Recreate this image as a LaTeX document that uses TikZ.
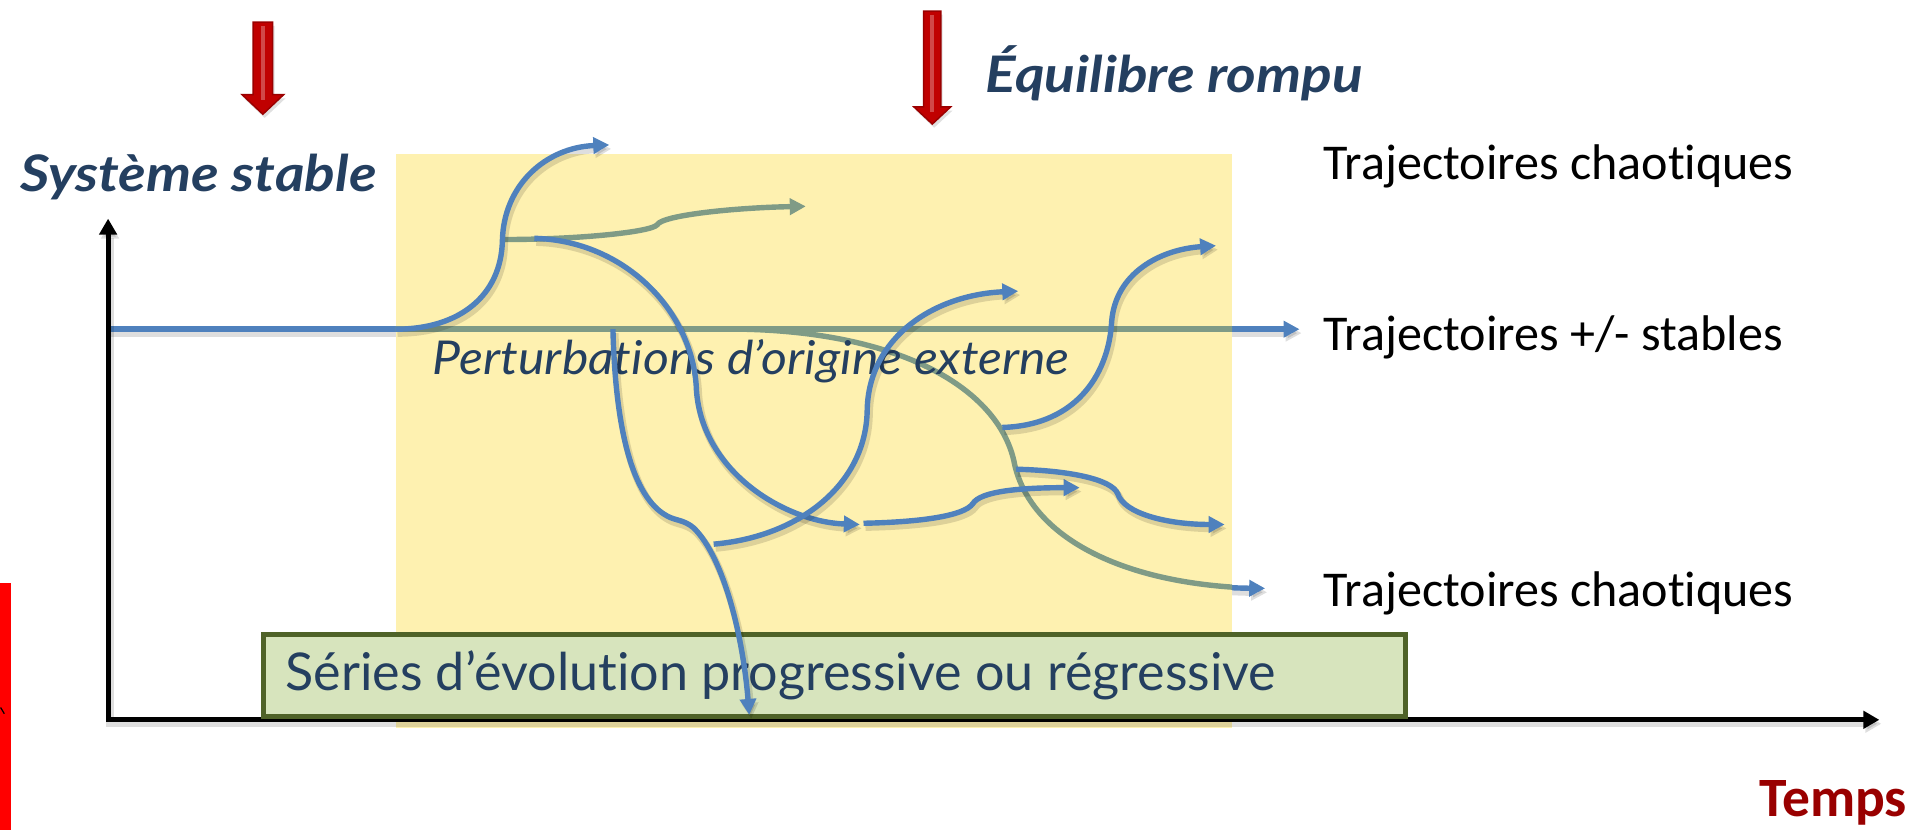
\documentclass[tikz,border=0pt]{standalone}
\usepackage{fontspec}
\setmainfont{Carlito}[RawFeature=-liga]
\newfontfamily\avfont{Lato}[RawFeature=-liga]
\newfontfamily\avital{Lato}[RawFeature=-liga, FakeStretch=1.07]
\newfontfamily\avbold{Lato}[RawFeature=-liga, FakeStretch=1.13]
\usetikzlibrary{arrows.meta}
\definecolor{lineblue}{HTML}{4F81BD}
\definecolor{backline}{HTML}{7F9B86}
\definecolor{paleyellow}{HTML}{FEF1B0}
\definecolor{navy}{HTML}{243F60}
\definecolor{boxfill}{HTML}{D7E4BD}
\definecolor{boxborder}{HTML}{4F6228}
\definecolor{tempsred}{HTML}{990000}
\definecolor{arrowred}{HTML}{C00000}
\definecolor{arrowdark}{HTML}{9A0000}
\definecolor{barred}{HTML}{FF0000}
\newcommand\rdarrow[6]{% center x, top, headstart, tip, shaft half, head half
  \fill[black, opacity=0.12] (#1-#5+1.5,#2+3) -- (#1+#5+1.5,#2+3) -- (#1+#5+1.5,#3+3)
    -- (#1+#6+1.5,#3+3) -- (#1+1.5,#4+3) -- (#1-#6+1.5,#3+3) -- (#1-#5+1.5,#3+3) -- cycle;
  \fill[arrowred, draw=arrowdark, line width=0.6pt]
    (#1-#5,#2) -- (#1+#5,#2) -- (#1+#5,#3) -- (#1+#6,#3) -- (#1,#4)
    -- (#1-#6,#3) -- (#1-#5,#3) -- cycle;
  \fill[white, opacity=0.28] (#1-1.6,#2+3) rectangle (#1+1.6,#3+4);
}
\begin{document}
\begin{tikzpicture}[x=0.5pt,y=-0.5pt,
  shadowed/.style={preaction={draw=black, opacity=0.13, line width=3pt,
    transform canvas={shift={(0.8pt,-1.6pt)}}}},
  traj/.style={line width=2.2pt, draw=lineblue, shadowed},
  backtraj/.style={line width=2.2pt, draw=backline},
  tip/.style={-{Triangle[length=6.5pt,width=6.5pt]}},
  axis/.style={line width=2pt, draw=black, shadowed},
  trajtext/.style={anchor=base west, inner sep=0pt, font=\fontsize{20.4}{24}\selectfont},
  title/.style={anchor=base west, inner sep=0pt, text=navy,
    font=\avbold\bfseries\itshape\fontsize{20.5}{24}\selectfont}]
\useasboundingbox (0,0) rectangle (1568,676);

% red bar at the left
\fill[barred] (0,475) rectangle (9,676);
\draw[black, line width=0.5pt] (0.5,576) -- (3.5,581);

% red arrows
\rdarrow{214}{18}{77}{93}{8}{17}
\rdarrow{759}{9}{87}{101}{7}{15}

% back trajectories (blue outside the yellow field)
\draw[traj, tip] (88,268) -- (1058,268);
\draw[traj, tip] (605,268) .. controls (740,271) and (815,320) .. (826,378)
  .. controls (840,440) and (920,478) .. (1030,479);

% yellow field
\fill[paleyellow] (322,125) rectangle (1003,593);

% back trajectories seen through the field
\begin{scope}
  \clip (322,125) rectangle (1003,593);
  \draw[backtraj] (88,268) -- (1058,268);
  \draw[backtraj] (605,268) .. controls (740,271) and (815,320) .. (826,378)
    .. controls (840,440) and (920,478) .. (1030,479);
\end{scope}
\draw[backtraj, tip] (410,195) .. controls (470,195) and (530,189) .. (535,183)
  .. controls (539,175) and (600,169) .. (656,168);

% axes
\draw[axis, line join=miter, {Triangle[length=6.5pt,width=7pt]}-{Triangle[length=6.5pt,width=7pt]}]
  (88,178) -- (88,586) -- (1530,586);

% texts
\node[title] (stable) at (16,156) {Système stable};
\node[title] (rompu) at (802,75) {Équilibre rompu};
\node[anchor=base west, inner sep=0pt, text=navy,
  font=\avital\itshape\fontsize{19}{22}\selectfont] (pert) at (352,305)
  {Perturbations d’origine externe};
\node[trajtext] (tc1) at (1077,146) {Trajectoires chaotiques};
\node[trajtext] (tst) at (1077,285) {Trajectoires +/- stables};
\node[trajtext] (tc2) at (1077,494) {Trajectoires chaotiques};
\node[anchor=base west, inner sep=0pt, text=tempsred,
  font=\bfseries\fontsize{22.6}{26}\selectfont] (temps) at (1432,665) {Temps};

% box
\draw[fill=boxfill, draw=boxborder, line width=2pt] (214.5,516.5) rectangle (1144,583);
\node[anchor=base west, inner sep=0pt, text=navy,
  font=\avfont\fontsize{21.2}{25}\selectfont] (series) at (232,562)
  {Séries d’évolution progressive ou régressive};

% front trajectories
\draw[traj, tip] (322,268) .. controls (375,268) and (408,240) .. (409,196)
  .. controls (410,150) and (445,120) .. (496,118);
\draw[traj, tip] (435,194) .. controls (510,196) and (565,255) .. (567,318)
  .. controls (572,385) and (640,425) .. (700,427);
\draw[traj, tip] (499,268) .. controls (501,350) and (515,405) .. (543,420)
  .. controls (550,424) and (557,423) .. (565,430)
  .. controls (590,455) and (605,520) .. (610,582);
\draw[traj, tip] (581,443) .. controls (650,437) and (705,395) .. (706,334)
  .. controls (707,275) and (760,240) .. (829,237);
\draw[traj, tip] (703,426) .. controls (750,425) and (785,420) .. (792,410)
  .. controls (798,400) and (830,397) .. (879,397);
\draw[traj, tip] (816,348) .. controls (880,346) and (903,300) .. (905,262)
  .. controls (908,222) and (945,203) .. (990,200);
\draw[traj, tip] (827,382) .. controls (870,383) and (905,390) .. (910,402)
  .. controls (915,418) and (950,427) .. (997,427);
\end{tikzpicture}
\end{document}
